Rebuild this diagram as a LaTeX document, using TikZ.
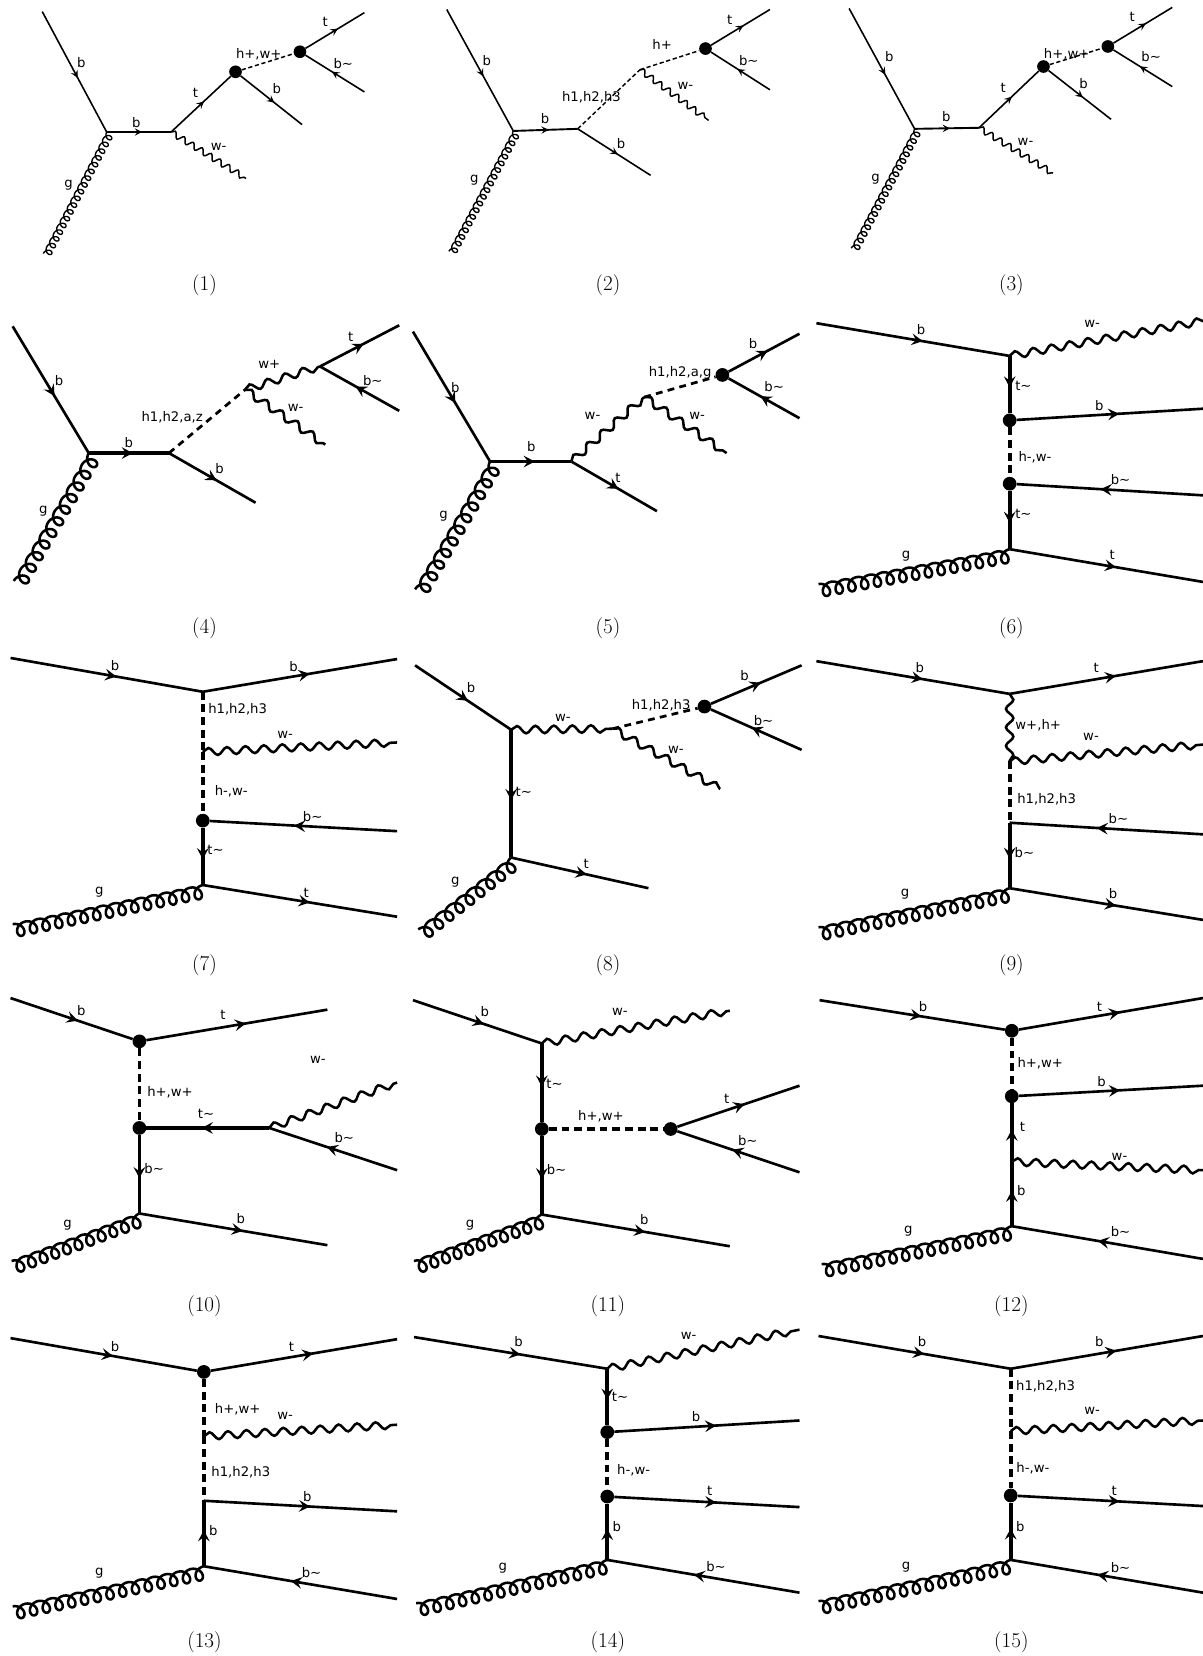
\documentclass[tikz,border=0pt]{standalone}
\usepackage{fontspec}
\newfontfamily\lblfont{DejaVu Sans}
\usetikzlibrary{arrows.meta,calc,decorations.pathmorphing,decorations.markings}
\tikzset{
  ferm/.style={line width=2.5pt,postaction={decorate},decoration={markings,mark=at position .55 with {\arrow{Stealth[length=10.5pt,width=11pt,inset=4pt]}}}},
  fermi/.style={ferm,line width=3.5pt},
  sferm/.style={line width=1.5pt,postaction={decorate},decoration={markings,mark=at position .55 with {\arrow{Stealth[length=7pt,width=7pt,inset=2.8pt]}}}},
  sfermi/.style={sferm,line width=1.8pt},
  scal/.style={line width=3.5pt,dash pattern=on 7.5pt off 4.5pt},
  dscal/.style={line width=2.6pt,dash pattern=on 6.5pt off 5pt},
  sscal/.style={line width=1.4pt,dash pattern=on 4pt off 2.5pt},
  phot/.style={line width=2.4pt,decorate,decoration={snake,segment length=17.5pt,amplitude=3.5pt}},
  sphot/.style={line width=1.4pt,decorate,decoration={snake,segment length=10pt,amplitude=2.8pt}},
  glu/.style={line width=2.4pt,line join=round},
  sglu/.style={line width=1.3pt,line join=round},
  vdot/.style={circle,fill=black,inner sep=0pt,minimum size=13pt},
  lbl/.style={inner sep=0pt,font=\lblfont\fontsize{12.5}{15}\selectfont},
  capt/.style={inner sep=0pt,xshift=.6pt,yshift=-1.5pt,font=\fontsize{20}{24}\selectfont},
}
% gluon from named point to named point: #1 loops, on the right-hand side of the line
\newcommand\glulink[6]{\draw[#1] let \p1=(#2),\p2=(#3),\n1={atan2(\y2-\y1,\x2-\x1)},\n2={veclen(\y2-\y1,\x2-\x1)} in
  [shift={(\p1)},rotate=\n1] plot[variable=\t,domain=0:\the\numexpr#4*360\relax,samples=\the\numexpr#4*24+1\relax]
  ({\n2*(\t/(#4*360))+#5pt*sin(\t)},{-#6pt*(1-cos(\t))});}
\newcommand\gluL[3]{\glulink{glu}{#1}{#2}{#3}{6.2}{6.3}}
\newcommand\gluS[3]{\glulink{sglu}{#1}{#2}{#3}{3.5}{3.6}}
\begin{document}
\begin{tikzpicture}[x=1pt,y=-1pt,line cap=butt]
\useasboundingbox (0,0) rectangle (1139,1568);
% ---------- (1)
\coordinate (A1) at (40,11); \coordinate (G1) at (41,240); \coordinate (V1a) at (101,125); \coordinate (V1b) at (162,125);
\coordinate (W1) at (233,169); \coordinate (B1) at (286,118); \coordinate (T1) at (345,12); \coordinate (C1) at (345,87);
\node[vdot,minimum size=12pt] (D1a) at (223,68) {}; \node[vdot,minimum size=12pt] (D1b) at (284,49) {};
\draw[sferm] (A1) -- (V1a); \gluS{G1}{V1a}{18} \draw[sfermi] (V1a) -- (V1b); \draw[sferm] (V1b) -- (D1a);
\draw[sphot] (V1b) -- (W1); \draw[sferm] (D1a) -- (B1); \draw[sscal] (D1a) -- (D1b); \draw[sferm] (D1b) -- (T1); \draw[sferm] (C1) -- (D1b);
\node[lbl] (L1a) at (77,59) {b}; \node[lbl] (L1b) at (129,116) {b}; \node[lbl] (L1c) at (65,175) {g}; \node[lbl] (L1d) at (185,88) {t};
\node[lbl] (L1e) at (207,139) {w-}; \node[lbl] (L1f) at (262,84) {b}; \node[lbl] (L1g) at (245,51) {h+,w+}; \node[lbl] (L1h) at (308,21) {t}; \node[lbl] (L1i) at (325,60) {b\textasciitilde};
\node[capt] (C1c) at (193,269) {(1)};
% ---------- (2)
\coordinate (A2) at (423,9); \coordinate (G2) at (425,238); \coordinate (V2a) at (486,124); \coordinate (V2b) at (547,122); \coordinate (V2c) at (606,66);
\coordinate (W2) at (671,114); \coordinate (B2) at (616,166); \coordinate (T2) at (729,9); \coordinate (C2) at (729,85);
\node[vdot,minimum size=12pt] (D2) at (668,46) {};
\draw[sferm] (A2) -- (V2a); \gluS{G2}{V2a}{18} \draw[sfermi] (V2a) -- (V2b); \draw[sferm] (V2b) -- (B2);
\draw[sscal] (V2b) -- (V2c); \draw[sphot] (V2c) -- (W2); \draw[sscal] (V2c) -- (D2); \draw[sferm] (D2) -- (T2); \draw[sferm] (C2) -- (D2);
\node[lbl] (L2a) at (461,57) {b}; \node[lbl] (L2b) at (516,112) {b}; \node[lbl] (L2c) at (449,171) {g}; \node[lbl] (L2d) at (560,92) {h1,h2,h3};
\node[lbl] (L2e) at (627,42) {h+}; \node[lbl] (L2f) at (649,81) {w-}; \node[lbl] (L2g) at (588,136) {b}; \node[lbl] (L2h) at (691,19) {t}; \node[lbl] (L2i) at (709,57) {b\textasciitilde};
\node[capt] (C2c) at (575,269) {(2)};
% ---------- (3)
\coordinate (A3) at (804,8); \coordinate (G3) at (806,235); \coordinate (V3a) at (866,122); \coordinate (V3b) at (927,121);
\coordinate (W3) at (997,164); \coordinate (B3) at (1052,113); \coordinate (T3) at (1110,7); \coordinate (C3) at (1110,82);
\node[vdot,minimum size=12pt] (D3a) at (988,63) {}; \node[vdot,minimum size=12pt] (D3b) at (1049,44) {};
\draw[sferm] (A3) -- (V3a); \gluS{G3}{V3a}{18} \draw[sfermi] (V3a) -- (V3b); \draw[sferm] (V3b) -- (D3a);
\draw[sphot] (V3b) -- (W3); \draw[sferm] (D3a) -- (B3); \draw[sscal] (D3a) -- (D3b); \draw[sferm] (D3b) -- (T3); \draw[sferm] (C3) -- (D3b);
\node[lbl] (L3a) at (842,54) {b}; \node[lbl] (L3b) at (896,110) {b}; \node[lbl] (L3c) at (829,170) {g}; \node[lbl] (L3d) at (950,83) {t};
\node[lbl] (L3e) at (971,134) {w-}; \node[lbl] (L3f) at (1026,79) {b}; \node[lbl] (L3g) at (1010,51) {h+,w+}; \node[lbl] (L3h) at (1072,16) {t}; \node[lbl] (L3i) at (1090,54) {b\textasciitilde};
\node[capt] (C3c) at (957,269) {(3)};
% ---------- (4)
\coordinate (A4) at (12,309); \coordinate (G4) at (13,550); \coordinate (V4a) at (84,429); \coordinate (V4b) at (160,429); \coordinate (V4c) at (232,369);
\coordinate (B4) at (242,476); \coordinate (W4a) at (308,421); \coordinate (V4d) at (303,347); \coordinate (T4) at (378,308); \coordinate (C4) at (378,389);
\draw[ferm] (A4) -- (V4a); \gluL{G4}{V4a}{11} \draw[fermi] (V4a) -- (V4b); \draw[ferm] (V4b) -- (B4); \draw[dscal] (V4b) -- (V4c);
\draw[phot] (V4c) -- (V4d); \draw[phot] (V4c) -- (W4a); \draw[ferm] (V4d) -- (T4); \draw[ferm] (C4) -- (V4d);
\node[lbl] (L4a) at (56,360) {b}; \node[lbl] (L4b) at (122,419) {b}; \node[lbl] (L4c) at (41,484) {g}; \node[lbl] (L4d) at (163,395) {h1,h2,a,z};
\node[lbl] (L4e) at (208,444) {b}; \node[lbl] (L4f) at (255,345) {w+}; \node[lbl] (L4g) at (280,386) {w-}; \node[lbl] (L4h) at (332,319) {t}; \node[lbl] (L4i) at (353,360) {b\textasciitilde};
\node[capt] (C4c) at (193,593) {(4)};
% ---------- (5)
\coordinate (A5) at (391,314); \coordinate (G5) at (393,558); \coordinate (V5a) at (464,437); \coordinate (V5b) at (541,437); \coordinate (V5c) at (610,376);
\coordinate (B5) at (622,484); \coordinate (W5) at (688,429); \coordinate (T5) at (757,316); \coordinate (C5) at (757,396);
\node[vdot] (D5) at (684,355) {};
\draw[ferm] (A5) -- (V5a); \gluL{G5}{V5a}{11} \draw[fermi] (V5a) -- (V5b); \draw[ferm] (V5b) -- (B5); \draw[phot] (V5b) -- (V5c);
\draw[phot] (V5c) -- (W5); \draw[dscal] (V5c) -- (D5); \draw[ferm] (D5) -- (T5); \draw[ferm] (C5) -- (D5);
\node[lbl] (L5a) at (431,367) {b}; \node[lbl] (L5b) at (503,423) {b}; \node[lbl] (L5c) at (420,489) {g}; \node[lbl] (L5d) at (585,452) {t};
\node[lbl] (L5e) at (561,394) {w-}; \node[lbl] (L5f) at (660,394) {w-}; \node[lbl] (L5g) at (644,353) {h1,h2,a,g}; \node[lbl] (L5h) at (713,325) {b}; \node[lbl] (L5i) at (733,366) {b\textasciitilde};
\node[capt] (C5c) at (575,593) {(5)};
% ---------- (6)
\coordinate (A6) at (773,306); \coordinate (V6a) at (956,337); \coordinate (W6) at (1139,304); \coordinate (B6) at (1139,387); \coordinate (C6) at (1139,469);
\coordinate (V6b) at (956,520); \coordinate (G6) at (775,553); \coordinate (T6) at (1139,551);
\node[vdot] (D6a) at (956,398) {}; \node[vdot] (D6b) at (956,458) {};
\draw[ferm] (A6) -- (V6a); \draw[phot] (V6a) -- (W6); \draw[fermi] (V6a) -- (D6a); \draw[ferm] (D6a) -- (B6); \draw[scal] (D6a) -- (D6b);
\draw[ferm] (C6) -- (D6b); \draw[fermi] (D6b) -- (V6b); \gluL{G6}{V6b}{15} \draw[ferm] (V6b) -- (T6);
\node[lbl] (L6a) at (872,312) {b}; \node[lbl] (L6b) at (1034,307) {w-}; \node[lbl] (L6c) at (969,365) {t\textasciitilde}; \node[lbl] (L6d) at (1041,384) {b};
\node[lbl] (L6e) at (980,433) {h-,w-}; \node[lbl] (L6f) at (1061,454) {b\textasciitilde}; \node[lbl] (L6g) at (969,487) {t\textasciitilde}; \node[lbl] (L6h) at (858,527) {g}; \node[lbl] (L6i) at (1053,525) {t};
\node[capt] (C6c) at (957,593) {(6)};
% ---------- (7)
\coordinate (A7) at (10,623); \coordinate (V7a) at (192,655); \coordinate (B7) at (376,624); \coordinate (V7b) at (192,712); \coordinate (W7) at (376,703);
\coordinate (C7) at (376,787); \coordinate (V7c) at (192,838); \coordinate (G7) at (12,875); \coordinate (T7) at (376,868);
\node[vdot] (D7) at (192,777) {};
\draw[ferm] (A7) -- (V7a); \draw[ferm] (V7a) -- (B7); \draw[scal] (V7a) -- (V7b); \draw[phot] (V7b) -- (W7); \draw[scal] (V7b) -- (D7);
\draw[ferm] (C7) -- (D7); \draw[fermi] (D7) -- (V7c); \gluL{G7}{V7c}{15} \draw[ferm] (V7c) -- (T7);
\node[lbl] (L7a) at (109,630) {b}; \node[lbl] (L7b) at (278,631) {b}; \node[lbl] (L7c) at (225,672) {h1,h2,h3}; \node[lbl] (L7d) at (270,696) {w-};
\node[lbl] (L7e) at (219,749) {h-,w-}; \node[lbl] (L7f) at (296,773) {b\textasciitilde}; \node[lbl] (L7g) at (204,805) {t\textasciitilde}; \node[lbl] (L7h) at (94,845) {g}; \node[lbl] (L7i) at (290,845) {t};
\node[capt] (C7c) at (193,912) {(7)};
% ---------- (8)
\coordinate (A8) at (393,630); \coordinate (V8a) at (484,691); \coordinate (V8b) at (580,690); \coordinate (W8) at (682,747); \coordinate (T8) at (759,630);
\coordinate (C8) at (759,710); \coordinate (V8c) at (484,812); \coordinate (G8) at (396,880); \coordinate (E8) at (614,841);
\node[vdot] (D8) at (667,669) {};
\draw[ferm] (A8) -- (V8a); \draw[phot] (V8a) -- (V8b); \draw[dscal] (V8b) -- (D8); \draw[phot] (V8b) -- (W8); \draw[ferm] (D8) -- (T8);
\draw[ferm] (C8) -- (D8); \draw[fermi] (V8a) -- (V8c); \gluL{G8}{V8c}{9} \draw[ferm] (V8c) -- (E8);
\node[lbl] (L8a) at (446,651) {b}; \node[lbl] (L8b) at (533,680) {w-}; \node[lbl] (L8c) at (626,668) {h1,h2,h3}; \node[lbl] (L8d) at (640,710) {w-};
\node[lbl] (L8e) at (705,640) {b}; \node[lbl] (L8f) at (723,682) {b\textasciitilde}; \node[lbl] (L8g) at (496,750) {t\textasciitilde}; \node[lbl] (L8h) at (431,835) {g}; \node[lbl] (L8i) at (555,818) {t};
\node[capt] (C8c) at (575,912) {(8)};
% ---------- (9)
\coordinate (A9) at (773,626); \coordinate (V9a) at (956,657); \coordinate (T9) at (1139,626); \coordinate (V9b) at (956,721); \coordinate (W9) at (1139,705);
\coordinate (V9c) at (956,779); \coordinate (C9) at (1139,790); \coordinate (V9d) at (956,841); \coordinate (G9) at (775,878); \coordinate (B9) at (1139,871);
\draw[ferm] (A9) -- (V9a); \draw[ferm] (V9a) -- (T9); \draw[phot] (V9a) -- (V9b); \draw[phot] (V9b) -- (W9); \draw[scal] (V9b) -- (V9c);
\draw[ferm] (C9) -- (V9c); \draw[fermi] (V9c) -- (V9d); \gluL{G9}{V9d}{15} \draw[ferm] (V9d) -- (B9);
\node[lbl] (L9a) at (871,632) {b}; \node[lbl] (L9b) at (1038,632) {t}; \node[lbl] (L9c) at (983,687) {w+,h+}; \node[lbl] (L9d) at (1033,698) {w-};
\node[lbl] (L9e) at (991,757) {h1,h2,h3}; \node[lbl] (L9f) at (1059,775) {b\textasciitilde}; \node[lbl] (L9g) at (970,807) {b\textasciitilde}; \node[lbl] (L9h) at (857,847) {g}; \node[lbl] (L9i) at (1054,846) {b};
\node[capt] (C9c) at (957,912) {(9)};
% ---------- (10)
\coordinate (A10) at (10,945); \coordinate (T10) at (310,956); \coordinate (V10a) at (255,1068); \coordinate (W10) at (376,1025); \coordinate (C10) at (376,1108);
\coordinate (V10b) at (132,1149); \coordinate (G10) at (11,1194); \coordinate (B10) at (310,1179);
\node[vdot] (D10a) at (132,986) {}; \node[vdot] (D10b) at (132,1068) {};
\draw[ferm] (A10) -- (D10a); \draw[ferm] (D10a) -- (T10); \draw[scal] (D10a) -- (D10b); \draw[fermi] (V10a) -- (D10b); \draw[phot] (V10a) -- (W10);
\draw[ferm] (C10) -- (V10a); \draw[fermi] (D10b) -- (V10b); \gluL{G10}{V10b}{11} \draw[ferm] (V10b) -- (B10);
\node[lbl] (L10a) at (77,957) {b}; \node[lbl] (L10b) at (211,961) {t}; \node[lbl] (L10c) at (161,1034) {h+,w+}; \node[lbl] (L10d) at (195,1055) {t\textasciitilde};
\node[lbl] (L10e) at (301,1004) {w-}; \node[lbl] (L10f) at (326,1077) {b\textasciitilde}; \node[lbl] (L10g) at (146,1106) {b\textasciitilde}; \node[lbl] (L10h) at (64,1160) {g}; \node[lbl] (L10i) at (228,1154) {b};
\node[capt] (C10c) at (193,1235) {(10)};
% ---------- (11)
\coordinate (A11) at (391,947); \coordinate (V11a) at (513,988); \coordinate (W11) at (691,957); \coordinate (T11) at (757,1028); \coordinate (C11) at (757,1110);
\coordinate (V11b) at (513,1150); \coordinate (G11) at (392,1194); \coordinate (B11) at (691,1180);
\node[vdot] (D11a) at (513,1069) {}; \node[vdot] (D11b) at (635,1069) {};
\draw[ferm] (A11) -- (V11a); \draw[phot] (V11a) -- (W11); \draw[fermi] (V11a) -- (D11a); \draw[scal] (D11a) -- (D11b); \draw[ferm] (D11b) -- (T11);
\draw[ferm] (C11) -- (D11b); \draw[fermi] (D11a) -- (V11b); \gluL{G11}{V11b}{11} \draw[ferm] (V11b) -- (B11);
\node[lbl] (L11a) at (459,958) {b}; \node[lbl] (L11b) at (587,958) {w-}; \node[lbl] (L11c) at (525,1026) {t\textasciitilde}; \node[lbl] (L11d) at (569,1057) {h+,w+};
\node[lbl] (L11e) at (688,1040) {t}; \node[lbl] (L11f) at (708,1080) {b\textasciitilde}; \node[lbl] (L11g) at (527,1107) {b\textasciitilde}; \node[lbl] (L11h) at (445,1160) {g}; \node[lbl] (L11i) at (610,1155) {b};
\node[capt] (C11c) at (575,1235) {(11)};
% ---------- (12)
\coordinate (A12) at (776,947); \coordinate (T12) at (1139,945); \coordinate (B12) at (1139,1028); \coordinate (V12a) at (958,1100); \coordinate (W12) at (1139,1108);
\coordinate (V12b) at (958,1161); \coordinate (G12) at (778,1197); \coordinate (C12) at (1139,1192);
\node[vdot] (D12a) at (958,976) {}; \node[vdot] (D12b) at (958,1038) {};
\draw[ferm] (A12) -- (D12a); \draw[ferm] (D12a) -- (T12); \draw[scal] (D12a) -- (D12b); \draw[ferm] (D12b) -- (B12); \draw[fermi] (V12a) -- (D12b);
\draw[phot] (V12a) -- (W12); \draw[fermi] (V12b) -- (V12a); \gluL{G12}{V12b}{15} \draw[ferm] (C12) -- (V12b);
\node[lbl] (L12a) at (874,953) {b}; \node[lbl] (L12b) at (1041,953) {t}; \node[lbl] (L12c) at (985,1007) {h+,w+}; \node[lbl] (L12d) at (1043,1024) {b};
\node[lbl] (L12e) at (968,1067) {t}; \node[lbl] (L12f) at (1060,1095) {w-}; \node[lbl] (L12g) at (967,1127) {b}; \node[lbl] (L12h) at (860,1166) {g}; \node[lbl] (L12i) at (1061,1166) {b\textasciitilde};
\node[capt] (C12c) at (957,1235) {(12)};
% ---------- (13)
\coordinate (A13) at (10,1267); \coordinate (T13) at (376,1268); \coordinate (V13a) at (193,1360); \coordinate (W13) at (376,1349); \coordinate (V13b) at (193,1421);
\coordinate (B13) at (376,1431); \coordinate (V13c) at (193,1483); \coordinate (G13) at (12,1521); \coordinate (C13) at (376,1514);
\node[vdot] (D13) at (193,1299) {};
\draw[ferm] (A13) -- (D13); \draw[ferm] (D13) -- (T13); \draw[scal] (D13) -- (V13a); \draw[phot] (V13a) -- (W13); \draw[scal] (V13a) -- (V13b);
\draw[ferm] (V13b) -- (B13); \draw[fermi] (V13c) -- (V13b); \gluL{G13}{V13c}{15} \draw[ferm] (C13) -- (V13c);
\node[lbl] (L13a) at (109,1275) {b}; \node[lbl] (L13b) at (276,1275) {t}; \node[lbl] (L13c) at (225,1334) {h+,w+}; \node[lbl] (L13d) at (270,1341) {w-};
\node[lbl] (L13e) at (228,1394) {h1,h2,h3}; \node[lbl] (L13f) at (291,1417) {b}; \node[lbl] (L13g) at (202,1449) {b}; \node[lbl] (L13h) at (94,1490) {g}; \node[lbl] (L13i) at (295,1489) {b\textasciitilde};
\node[capt] (C13c) at (193,1553) {(13)};
% ---------- (14)
\coordinate (A14) at (392,1266); \coordinate (V14a) at (575,1296); \coordinate (W14) at (757,1259); \coordinate (B14) at (757,1345); \coordinate (T14) at (757,1427);
\coordinate (V14b) at (575,1477); \coordinate (G14) at (394,1518); \coordinate (C14) at (757,1508);
\node[vdot] (D14a) at (575,1356) {}; \node[vdot] (D14b) at (575,1417) {};
\draw[ferm] (A14) -- (V14a); \draw[phot] (V14a) -- (W14); \draw[fermi] (V14a) -- (D14a); \draw[ferm] (D14a) -- (B14); \draw[scal] (D14a) -- (D14b);
\draw[ferm] (D14b) -- (T14); \draw[fermi] (V14b) -- (D14b); \gluL{G14}{V14b}{15} \draw[ferm] (C14) -- (V14b);
\node[lbl] (L14a) at (491,1270) {b}; \node[lbl] (L14b) at (652,1265) {w-}; \node[lbl] (L14c) at (587,1323) {t\textasciitilde}; \node[lbl] (L14d) at (659,1341) {b};
\node[lbl] (L14e) at (600,1392) {h-,w-}; \node[lbl] (L14f) at (672,1412) {t}; \node[lbl] (L14g) at (584,1445) {b}; \node[lbl] (L14h) at (476,1485) {g}; \node[lbl] (L14i) at (678,1483) {b\textasciitilde};
\node[capt] (C14c) at (575,1553) {(14)};
% ---------- (15)
\coordinate (A15) at (775,1265); \coordinate (V15a) at (957,1296); \coordinate (B15) at (1139,1265); \coordinate (V15b) at (957,1355); \coordinate (W15) at (1139,1345);
\coordinate (T15) at (1139,1426); \coordinate (V15c) at (957,1477); \coordinate (G15) at (775,1516); \coordinate (C15) at (1139,1508);
\node[vdot] (D15) at (957,1416) {};
\draw[ferm] (A15) -- (V15a); \draw[ferm] (V15a) -- (B15); \draw[scal] (V15a) -- (V15b); \draw[phot] (V15b) -- (W15); \draw[scal] (V15b) -- (D15);
\draw[ferm] (D15) -- (T15); \draw[fermi] (V15c) -- (D15); \gluL{G15}{V15c}{15} \draw[ferm] (C15) -- (V15c);
\node[lbl] (L15a) at (873,1270) {b}; \node[lbl] (L15b) at (1041,1270) {b}; \node[lbl] (L15c) at (990,1313) {h1,h2,h3}; \node[lbl] (L15d) at (1034,1336) {w-};
\node[lbl] (L15e) at (978,1390) {h-,w-}; \node[lbl] (L15f) at (1055,1412) {t}; \node[lbl] (L15g) at (966,1445) {b}; \node[lbl] (L15h) at (858,1484) {g}; \node[lbl] (L15i) at (1061,1484) {b\textasciitilde};
\node[capt] (C15c) at (957,1553) {(15)};
\end{tikzpicture}
\end{document}
